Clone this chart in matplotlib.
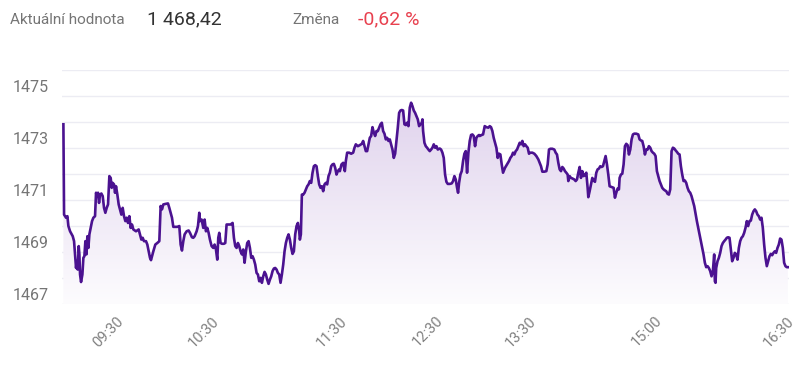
import matplotlib

matplotlib.use("Agg")
import matplotlib.pyplot as plt  # noqa: E402
import numpy as np  # noqa: E402
from matplotlib.colors import LinearSegmentedColormap  # noqa: E402
from matplotlib.patches import PathPatch  # noqa: E402

# intraday samples (ordinal position on the session axis) and index value
sample_no = [
    10, 12, 18, 22, 25, 30, 38, 42, 45, 48, 50, 53, 56, 58, 60, 63, 67, 70, 73, 76,
    79, 82, 85, 88, 92, 96, 100, 105, 108, 111, 114, 117, 120, 124, 128, 132, 136, 140, 144, 148,
    152, 155, 158, 162, 165, 168, 172, 176, 180, 184, 188, 192, 196, 200, 204, 208, 212, 216, 220, 228,
    236, 240, 244, 248, 252, 258, 262, 266, 270, 273, 276, 280, 286, 292, 298, 302, 306, 310, 316, 324,
    328, 332, 336, 340, 344, 352, 358, 362, 366, 370, 374, 380, 386, 390, 396, 400, 404, 410, 414, 418,
    420,
    425, 430, 434, 438, 442, 446, 450, 455, 460, 464, 468, 472, 475, 478, 482, 486, 492, 496, 500, 506,
    512, 518, 522, 526, 530, 534, 538, 542, 546, 550, 554, 558, 562, 566, 570, 574, 578, 582, 586, 590,
    594, 598, 602, 606, 610, 614, 618, 622, 626, 630, 634, 638, 642, 646, 650, 654, 658, 662, 666, 670,
    674, 678, 682, 686, 690, 694, 698, 702, 706, 710, 714, 718, 720, 723, 726, 730, 734, 738, 742, 746,
    750, 754, 758, 762, 766, 770, 774, 778, 782, 786, 790, 794, 798, 802, 806, 810, 814, 818, 822, 826,
    830, 834, 838,
    840, 845, 850, 855, 858, 862, 868, 874, 880, 884, 888, 894, 900, 906, 910, 914, 918, 922, 926, 930,
    934, 938, 942, 946, 950, 954, 958, 962, 966, 970, 974, 978, 982, 986, 990, 994, 998, 1002, 1006, 1010,
    1014, 1018, 1022, 1026, 1030, 1034, 1038, 1042, 1046, 1050, 1054, 1058, 1062, 1066, 1070, 1074, 1078, 1082, 1086, 1088,
    1090, 1094, 1098, 1102, 1106, 1110, 1114, 1118, 1122, 1126, 1130, 1134, 1140, 1144, 1148, 1152, 1156, 1160, 1164, 1170,
    1176, 1180, 1184, 1188, 1192, 1195, 1198, 1202, 1206, 1210, 1214, 1218, 1222, 1226, 1230, 1234, 1238, 1242, 1246, 1250,
    1254, 1258,
    1260, 1266, 1270, 1275, 1280, 1286, 1290, 1294, 1298, 1302, 1306, 1310, 1314, 1318, 1322, 1326, 1330, 1336, 1342, 1348,
    1352, 1356, 1360, 1364, 1368, 1372, 1376, 1380, 1384, 1388, 1392, 1396, 1400, 1404, 1408, 1412, 1418, 1424, 1430, 1436,
    1440, 1444, 1448, 1454, 1460, 1464, 1468, 1472, 1478, 1484, 1488, 1492, 1496, 1500, 1504, 1508, 1512, 1516, 1520, 1524,
    1526, 1530, 1534, 1538, 1544, 1548, 1552, 1556, 1560, 1564, 1568, 1572, 1576, 1580, 1584, 1586, 1590, 1594, 1598, 1602,
    1606, 1610, 1614, 1618, 1622, 1626, 1630, 1634, 1638, 1642, 1646, 1650, 1656, 1662, 1666, 1670, 1674, 1678,
    1680, 1684, 1688, 1692, 1696, 1700, 1704, 1708, 1712, 1716, 1720, 1724, 1730, 1736, 1740, 1744, 1748, 1752, 1756, 1760,
    1764, 1768, 1772, 1776, 1780, 1784, 1788, 1792, 1796, 1800, 1804, 1808, 1812, 1816, 1820, 1824, 1828, 1832, 1836, 1840,
    1844, 1848, 1852, 1856, 1860, 1864, 1868, 1872, 1876, 1880, 1884, 1888, 1892, 1896, 1900, 1904, 1908, 1912, 1916, 1920,
    1924, 1928, 1932, 1936, 1940, 1944, 1948, 1952, 1956, 1960, 1964, 1966, 1968, 1970, 1974, 1978, 1982, 1986, 1990, 1994,
    1998, 2002, 2006, 2010, 2014, 2018, 2022, 2026, 2030, 2034, 2038, 2042, 2046, 2050, 2054, 2058, 2062, 2066, 2070, 2074,
    2078, 2082, 2086, 2090, 2094, 2098, 2102, 2106, 2110, 2114, 2118, 2122, 2126, 2130, 2134, 2138, 2142, 2146, 2150, 2154,
    2158, 2162, 2166, 2170, 2174, 2178, 2182, 2185,
]

index_value = [
    1473.91, 1470.44, 1470.32, 1470.38, 1470.00, 1469.80, 1469.61, 1469.42, 1468.91, 1468.39,
    1468.65, 1468.33, 1469.23, 1468.91, 1468.14, 1467.85, 1468.14, 1468.78, 1468.84, 1469.42,
    1468.91, 1469.61, 1469.16, 1469.68, 1469.93, 1470.19, 1470.32, 1470.38, 1471.28, 1471.15,
    1471.28, 1470.89, 1471.21, 1471.25, 1471.15, 1470.70, 1470.51, 1470.70, 1470.83, 1471.92,
    1471.85, 1471.47, 1471.66, 1471.60, 1471.28, 1471.53, 1471.21, 1470.83, 1470.64, 1470.44,
    1470.70, 1470.38, 1470.19, 1470.32, 1470.12, 1470.38, 1469.93, 1470.06, 1469.87, 1469.80,
    1469.87, 1469.68, 1469.48, 1469.55, 1469.42, 1469.42, 1469.29, 1469.03, 1468.78, 1468.69,
    1468.84, 1469.03, 1469.29, 1469.35, 1469.42, 1470.77, 1470.64, 1470.83, 1470.85, 1470.87,
    1470.70, 1470.51, 1470.32, 1469.97, 1469.97, 1469.97, 1470.00, 1469.29, 1469.06, 1469.42,
    1469.68, 1469.80, 1469.83, 1469.74, 1469.57, 1469.55, 1469.61, 1469.80, 1470.00, 1470.51,
    1470.19,
    1470.25, 1469.93, 1470.25, 1469.80, 1469.93, 1469.74, 1469.48, 1469.23, 1469.16, 1469.29,
    1469.10, 1468.71, 1469.55, 1469.74, 1469.35, 1469.32, 1469.32, 1469.35, 1470.06, 1470.06,
    1470.06, 1470.12, 1469.55, 1469.23, 1469.16, 1469.35, 1469.23, 1469.03, 1468.91, 1469.10,
    1468.59, 1469.03, 1469.35, 1469.42, 1469.16, 1468.78, 1468.84, 1468.71, 1468.52, 1468.20,
    1468.14, 1467.88, 1468.01, 1467.82, 1468.07, 1468.24, 1468.14, 1467.94, 1467.78, 1467.94,
    1468.07, 1468.27, 1468.37, 1468.39, 1468.33, 1468.20, 1468.14, 1467.82, 1468.14, 1468.52,
    1469.03, 1469.35, 1469.55, 1469.68, 1469.48, 1469.16, 1468.93, 1469.03, 1469.68, 1470.00,
    1470.12, 1469.80, 1469.48, 1469.68, 1471.21, 1471.21, 1471.28, 1471.41, 1471.53, 1471.60,
    1471.73, 1471.66, 1472.05, 1472.30, 1472.34, 1472.30, 1471.92, 1471.60, 1471.47, 1471.53,
    1471.34, 1471.60, 1471.66, 1471.60, 1471.92, 1472.05, 1472.30, 1472.37, 1472.39, 1472.24,
    1471.98, 1472.11, 1472.18,
    1472.11, 1472.37, 1472.43, 1472.11, 1472.50, 1472.82, 1472.82, 1472.78, 1472.82, 1473.01,
    1473.14, 1473.07, 1473.11, 1473.16, 1473.27, 1473.07, 1472.88, 1472.88, 1473.14, 1473.39,
    1473.46, 1473.80, 1473.59, 1473.46, 1473.65, 1473.65, 1473.78, 1473.91, 1473.97, 1473.65,
    1473.55, 1473.33, 1473.39, 1473.27, 1473.33, 1473.14, 1472.94, 1472.62, 1472.78, 1473.27,
    1473.78, 1474.35, 1474.44, 1474.46, 1474.44, 1473.91, 1473.88, 1473.97, 1473.84, 1474.55,
    1474.74, 1474.61, 1474.44, 1474.35, 1474.23, 1474.10, 1473.84, 1473.91, 1473.97, 1474.10,
    1473.65, 1473.20, 1473.07, 1473.01, 1472.94, 1472.88, 1472.94, 1473.01, 1473.14, 1473.01,
    1473.07, 1472.94, 1472.98, 1472.94, 1472.82, 1472.62, 1471.98, 1471.70, 1471.62, 1471.62,
    1471.64, 1471.73, 1471.92, 1471.79, 1471.47, 1471.28, 1471.66, 1471.98, 1472.11, 1472.50,
    1472.78, 1472.88, 1472.05, 1472.82, 1473.27, 1473.50, 1473.52, 1473.46, 1473.07, 1473.39,
    1473.46, 1473.50,
    1473.46, 1473.50, 1473.52, 1473.84, 1473.80, 1473.78, 1473.84, 1473.80, 1473.65, 1473.39,
    1473.20, 1473.01, 1472.62, 1472.78, 1472.75, 1472.37, 1472.05, 1472.24, 1472.37, 1472.50,
    1472.62, 1472.69, 1472.82, 1472.75, 1472.88, 1472.94, 1473.07, 1473.20, 1473.14, 1473.27,
    1473.07, 1473.14, 1473.07, 1473.01, 1472.78, 1472.82, 1472.82, 1472.78, 1472.69, 1472.56,
    1472.43, 1472.30, 1472.09, 1472.09, 1472.11, 1472.37, 1472.94, 1472.97, 1472.97, 1472.94,
    1472.82, 1472.75, 1472.43, 1472.18, 1472.11, 1472.27, 1472.21, 1472.11, 1472.05, 1471.98,
    1471.73, 1471.92, 1471.85, 1471.83, 1471.79, 1471.73, 1471.79, 1472.05, 1472.27, 1471.85,
    1472.11, 1471.92, 1471.96, 1472.05, 1471.47, 1471.11, 1471.34, 1471.60, 1471.85, 1471.75,
    1471.70, 1472.05, 1472.18, 1472.21, 1472.30, 1472.27, 1472.30, 1472.50, 1472.69, 1472.37,
    1471.98, 1471.53, 1471.50, 1471.47, 1471.09, 1471.28, 1471.44, 1471.41,
    1471.85, 1471.98, 1472.01, 1472.37, 1473.07, 1473.16, 1473.11, 1472.75, 1472.94, 1473.33,
    1473.52, 1473.55, 1473.55, 1473.52, 1473.33, 1473.29, 1473.27, 1473.07, 1472.75, 1472.94,
    1472.94, 1473.07, 1473.01, 1472.88, 1472.82, 1472.78, 1472.69, 1472.11, 1471.92, 1471.73,
    1471.60, 1471.47, 1471.41, 1471.37, 1471.34, 1471.24, 1471.21, 1471.41, 1472.88, 1473.01,
    1472.98, 1472.91, 1472.85, 1472.78, 1472.75, 1472.30, 1471.98, 1471.73, 1471.75, 1471.66,
    1471.47, 1471.34, 1471.28, 1471.15, 1470.96, 1470.77, 1470.47, 1470.19, 1469.93, 1469.68,
    1469.42, 1469.16, 1468.91, 1468.59, 1468.42, 1468.46, 1468.39, 1468.27, 1468.07, 1468.27,
    1468.91, 1467.88, 1467.82, 1468.39, 1468.65, 1468.78, 1468.97, 1469.23, 1469.35, 1469.42,
    1469.48, 1469.55, 1469.57, 1469.55, 1469.10, 1468.65, 1468.78, 1468.97, 1468.91, 1468.71,
    1469.16, 1469.42, 1469.55, 1469.61, 1469.74, 1469.93, 1470.19, 1470.00, 1470.19, 1470.21,
    1470.44, 1470.57, 1470.64, 1470.57, 1470.44, 1470.38, 1470.25, 1470.32, 1469.93, 1469.29,
    1468.78, 1468.46, 1468.65, 1468.84, 1468.93, 1468.88, 1468.97, 1469.03, 1468.97, 1469.16,
    1469.29, 1469.52, 1469.48, 1469.16, 1468.59, 1468.46, 1468.42, 1468.42,
]

tick_samples = [168, 456, 840, 1128, 1407, 1785, 2181]
tick_labels = ["09:30", "10:30", "11:30", "12:30", "13:30", "15:00", "16:30"]
grid_values = list(range(1467, 1477))
label_values = [1467, 1469, 1471, 1473, 1475]

current_value = "1 468,42"
change_pct = "-0,62 %"

LINE = "#4b1290"
GRID = "#ececf3"
LABEL = "#757575"

plt.rcParams["font.family"] = ["Roboto", "DejaVu Sans"]

fig = plt.figure(figsize=(8.0, 3.66), dpi=100)
ax = fig.add_axes([0.078, 0.169, 0.908, 0.640])

x = np.array(sample_no, dtype=float)
y = np.array(index_value)
y_lo, y_hi = grid_values[0], grid_values[-1]

for g in grid_values:
    ax.axhline(g, color=GRID, lw=1.0, zorder=0)

# gradient fill under the line
poly = ax.fill_between(x, y, y_lo, color="none", lw=0)
clip = PathPatch(poly.get_paths()[0], transform=ax.transData, facecolor="none", edgecolor="none")
ax.add_patch(clip)
cmap = LinearSegmentedColormap.from_list("fade", ["#fdfcfe", "#e0d3ed"])
grad = np.linspace(0, 1, 256).reshape(-1, 1)
im = ax.imshow(grad, cmap=cmap, aspect="auto", origin="lower",
               extent=[x.min(), x.max(), y_lo, y.max()], zorder=1)
im.set_clip_path(clip)

ax.plot(x, y, color=LINE, lw=1.9, zorder=3, solid_joinstyle="round")

ax.set_xlim(7, 2188)
ax.set_ylim(y_lo, y_hi)
for s in ax.spines.values():
    s.set_visible(False)
ax.set_xticks([])
ax.set_yticks([])

for v in label_values:
    ax.annotate(str(v), xy=(0, v), xycoords=("axes fraction", "data"),
                xytext=(-10, 3), textcoords="offset points",
                ha="right", va="baseline", fontsize=11.5, color=LABEL)

for t, lab in zip(tick_samples, tick_labels):
    ax.annotate(lab, xy=(t, y_lo), xycoords=("data", "data"),
                xytext=(0, -7), textcoords="offset points",
                ha="right", va="top", rotation=45, rotation_mode="anchor",
                fontsize=10.5, color="#808080", annotation_clip=False)

fig.text(0.0125, 0.946, "Aktuální hodnota", fontsize=11, color=LABEL, va="center")
fig.text(0.184, 0.946, current_value, fontsize=14, color="#333333", va="center")
fig.text(0.365, 0.946, "Změna", fontsize=11, color=LABEL, va="center")
fig.text(0.447, 0.946, change_pct, fontsize=14, color="#e8414f", va="center")

fig.savefig("out.png", dpi=100, facecolor="white")
